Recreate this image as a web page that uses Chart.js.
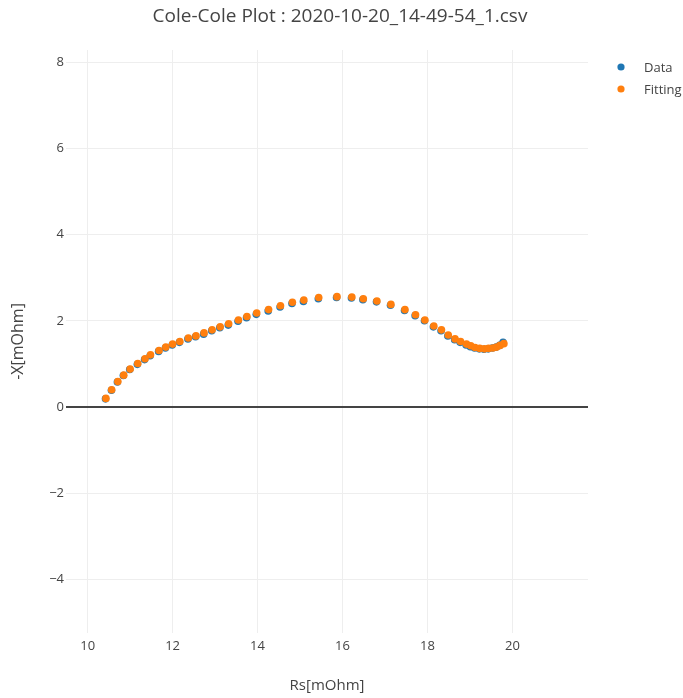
<!DOCTYPE html>
<html>
<head>
<meta charset="utf-8">
<title>Cole-Cole Plot</title>
<script src="https://cdn.jsdelivr.net/npm/chart.js@4.4.1/dist/chart.umd.min.js"></script>
<style>
  html, body { margin: 0; padding: 0; background: #fff; }
  #wrap { width: 683px; height: 698px; position: relative; }
</style>
</head>
<body>
<div id="wrap"><canvas id="cc"></canvas></div>
<script>
// Impedance spectrum: real part Rs and negated imaginary part -X, both in mOhm
const chartTitle = 'Cole-Cole Plot : 2020-10-20_14-49-54_1.csv';
const seriesNames = ['Data', 'Fitting'];

const fitRs = [10.43, 10.565, 10.71, 10.85, 11.00, 11.18, 11.35, 11.48, 11.68, 11.84,
  12.00, 12.17, 12.37, 12.55, 12.74, 12.93, 13.12, 13.32, 13.55, 13.75,
  13.98, 14.26, 14.54, 14.82, 15.09, 15.44, 15.87, 16.22, 16.49, 16.81,
  17.14, 17.47, 17.72, 17.94, 18.15, 18.33, 18.49, 18.65, 18.78, 18.92,
  19.02, 19.12, 19.23, 19.34, 19.44, 19.54, 19.63, 19.71, 19.80];
const fitX = [0.20, 0.40, 0.59, 0.74, 0.88, 1.01, 1.12, 1.21, 1.31, 1.39,
  1.46, 1.52, 1.60, 1.65, 1.72, 1.79, 1.86, 1.93, 2.02, 2.10,
  2.18, 2.26, 2.35, 2.43, 2.48, 2.54, 2.56, 2.55, 2.51, 2.46,
  2.38, 2.26, 2.14, 2.02, 1.88, 1.79, 1.67, 1.58, 1.52, 1.46,
  1.42, 1.38, 1.36, 1.35, 1.36, 1.37, 1.39, 1.43, 1.47];

const dataRs = [10.42, 10.56, 10.70, 10.84, 10.99, 11.17, 11.34, 11.47, 11.67, 11.83,
  11.99, 12.16, 12.36, 12.54, 12.73, 12.92, 13.11, 13.31, 13.54, 13.74,
  13.97, 14.25, 14.53, 14.81, 15.08, 15.43, 15.86, 16.21, 16.48, 16.80,
  17.13, 17.46, 17.71, 17.93, 18.14, 18.32, 18.48, 18.64, 18.77, 18.91,
  19.01, 19.11, 19.22, 19.33, 19.43, 19.53, 19.62, 19.70, 19.78];
const dataX = [0.19, 0.39, 0.58, 0.73, 0.87, 0.99, 1.10, 1.19, 1.29, 1.37,
  1.44, 1.50, 1.58, 1.63, 1.69, 1.77, 1.84, 1.90, 1.99, 2.07,
  2.15, 2.23, 2.32, 2.40, 2.45, 2.51, 2.54, 2.53, 2.49, 2.44,
  2.36, 2.24, 2.12, 2.00, 1.86, 1.77, 1.65, 1.56, 1.50, 1.44,
  1.40, 1.37, 1.35, 1.34, 1.35, 1.37, 1.39, 1.43, 1.50];

const xTicks = [10, 12, 14, 16, 18, 20];
const yTicks = [-4, -2, 0, 2, 4, 6, 8];
const xTitle = 'Rs[mOhm]';
const yTitle = '-X[mOhm]';

const toPoints = (xs, ys) => xs.map((v, i) => ({ x: v, y: ys[i] }));
const colors = ['#1f77b4', '#ff7f0e'];
const FONT = '"Open Sans", "Noto Sans", sans-serif';
const INK = '#444';

// Title and legend painted in the chart margins
const decorations = {
  id: 'decorations',
  afterDraw(chart) {
    const ctx = chart.ctx;
    ctx.save();
    ctx.fillStyle = INK;
    ctx.font = '19px ' + FONT;
    ctx.textAlign = 'center';
    ctx.textBaseline = 'middle';
    ctx.fillText(chartTitle, 340, 17);

    ctx.font = '13px ' + FONT;
    ctx.textAlign = 'left';
    chart.data.datasets.forEach((ds, i) => {
      const y = 67 + i * 22;
      ctx.beginPath();
      ctx.arc(621, y, 3.6, 0, Math.PI * 2);
      ctx.fillStyle = ds.backgroundColor;
      ctx.fill();
      ctx.fillStyle = INK;
      ctx.fillText(ds.label, 644, y + 1);
    });
    ctx.restore();
  }
};

new Chart(document.getElementById('cc'), {
  type: 'scatter',
  data: {
    datasets: [
      { label: seriesNames[0], data: toPoints(dataRs, dataX), order: 1,
        backgroundColor: colors[0], borderColor: colors[0],
        pointRadius: 3.8, pointBorderWidth: 0, pointHoverRadius: 3.8 },
      { label: seriesNames[1], data: toPoints(fitRs, fitX), order: 0,
        backgroundColor: colors[1], borderColor: colors[1],
        pointRadius: 3.8, pointBorderWidth: 0, pointHoverRadius: 3.8 }
    ]
  },
  options: {
    responsive: true,
    maintainAspectRatio: false,
    animation: false,
    layout: { padding: { left: 0, top: 50, right: 95, bottom: 0 } },
    plugins: {
      legend: { display: false },
      title: { display: false },
      tooltip: { enabled: false }
    },
    scales: {
      x: {
        type: 'linear',
        min: 9.49, max: 21.78,
        afterFit(scale) { scale.height = 65; },
        afterBuildTicks(scale) { scale.ticks = xTicks.map(v => ({ value: v })); },
        border: { display: false },
        grid: { color: '#eeeeee', lineWidth: 1, drawTicks: false },
        ticks: { includeBounds: false, padding: 5, color: INK,
                 font: { family: FONT, size: 13 } },
        title: { display: true, text: xTitle, color: INK,
                 font: { family: FONT, size: 15 }, padding: { top: 0, bottom: 3 } }
      },
      y: {
        type: 'linear',
        min: -5.24, max: 8.28,
        afterFit(scale) { scale.width = 66; },
        afterBuildTicks(scale) { scale.ticks = yTicks.map(v => ({ value: v })); },
        border: { display: false },
        grid: {
          drawTicks: false,
          color: c => (c.tick && c.tick.value === 0) ? '#444444' : '#eeeeee',
          lineWidth: c => (c.tick && c.tick.value === 0) ? 2 : 1
        },
        ticks: { includeBounds: false, padding: 2, color: INK,
                 font: { family: FONT, size: 13 },
                 callback: v => (v < 0 ? '\u2212' + Math.abs(v) : String(v)) },
        title: { display: true, text: yTitle, color: INK,
                 font: { family: FONT, size: 16 }, padding: { top: 9, bottom: 0 } }
      }
    }
  },
  plugins: [decorations]
});
</script>
</body>
</html>
